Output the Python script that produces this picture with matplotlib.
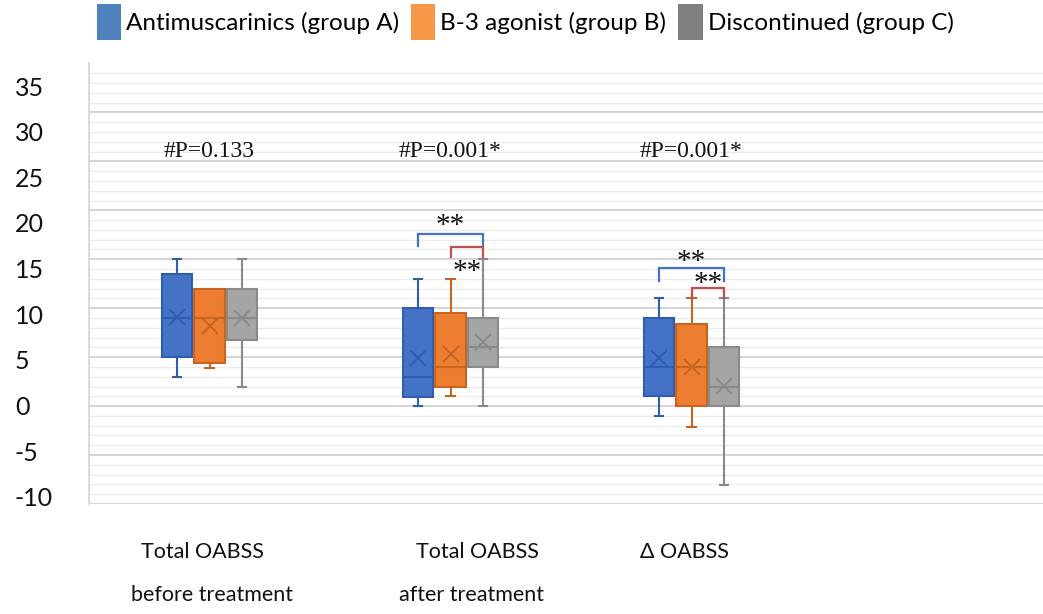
import matplotlib
matplotlib.use("Agg")
import matplotlib.pyplot as plt
from matplotlib.patches import Patch
import matplotlib.transforms as mtransforms

# ---------------- data ----------------
categories = ["Total OABSS before treatment", "Total OABSS after treatment", "Δ OABSS"]
cat_line1 = ["Total OABSS", "Total OABSS", "Δ OABSS"]
cat_line2 = ["before treatment", "after treatment", ""]
groups = ["Antimuscarinics (group A)", "B-3 agonist (group B)", "Discontinued (group C)"]

# per group, per category: [whislo, q1, median, q3, whishi]
five_num_A = [[3, 5, 9, 13.5, 15], [0, 0.9, 3, 10, 13], [-1, 1, 4, 9, 11]]
five_num_B = [[3.9, 4.4, 9, 12, 12], [1, 2, 4, 9.5, 13], [-2.1, 0, 4, 8.4, 11]]
five_num_C = [[2, 6.8, 9, 12, 15], [0, 4, 6, 9, 15], [-8.1, 0, 2, 6, 11]]
means_A = [9.1, 4.9, 4.9]
means_B = [8.2, 5.3, 4.0]
means_C = [9.05, 6.6, 2.1]

p_texts = ["#P=0.133", "#P=0.001*", "#P=0.001*"]
p_y = 26
yticks = [-10, -5, 0, 5, 10, 15, 20, 25, 30, 35]

# significance brackets: (category, group_from, group_to, top_y, leg_bottom_y, label_y, color)
brackets = [
    (1, 0, 2, 17.6, 16.4, 18.4, "#4472C4"),
    (1, 1, 2, 16.3, 15.2, 13.7, "#C0504D"),
    (2, 0, 2, 14.15, 12.8, 14.7, "#4472C4"),
    (2, 1, 2, 12.1, 11.0, 12.5, "#C0504D"),
]

# ---------------- style ----------------
face_cols = ["#4472C4", "#ED7D31", "#A5A5A5"]
edge_cols = ["#2F5DAF", "#C5651F", "#8A8A8A"]
legend_cols = ["#4F81BD", "#F79646", "#7F7F7F"]

W, H = 1043, 614
fig = plt.figure(figsize=(W / 100, H / 100), dpi=100)

def px_axes(left, top, right, bottom):
    return [left / W, 1 - bottom / H, (right - left) / W, (bottom - top) / H]

ax = fig.add_axes(px_axes(89, 63.5, 1053, 504))
ax.set_xlim(-0.5, 3.5)
ax.set_ylim(-10, 35)

# grid
ax.set_yticks(yticks)
ax.set_yticks([v for v in range(-10, 36) if v % 5 != 0], minor=True)
ax.grid(axis="y", which="major", color="#d4d4d4", linewidth=1.4)
ax.grid(axis="y", which="minor", color="#ececec", linewidth=1.0)
ax.set_axisbelow(True)
ax.tick_params(axis="both", which="both", length=0, labelleft=False, labelbottom=False)
ax.set_xticks([])
for s in ["top", "right", "bottom"]:
    ax.spines[s].set_visible(False)
ax.spines["left"].set_color("#d4d4d4")
ax.spines["left"].set_linewidth(1.2)

offsets = [-0.136, 0.0, 0.136]
box_w = 0.125
all_five = [five_num_A, five_num_B, five_num_C]
all_means = [means_A, means_B, means_C]

for g in range(3):
    stats = []
    for c in range(3):
        lo, q1, med, q3, hi = all_five[g][c]
        stats.append(dict(whislo=lo, q1=q1, med=med, q3=q3, whishi=hi,
                          mean=all_means[g][c], fliers=[]))
    positions = [c + offsets[g] for c in range(3)]
    ec = edge_cols[g]
    ax.bxp(stats, positions=positions, widths=box_w, patch_artist=True,
           showmeans=True, showfliers=False, manage_ticks=False,
           boxprops=dict(facecolor=face_cols[g], edgecolor=ec, linewidth=1.5),
           medianprops=dict(color=ec, linewidth=1.5),
           whiskerprops=dict(color=ec, linewidth=1.5),
           capprops=dict(color=ec, linewidth=1.5),
           capwidths=0.035,
           meanprops=dict(marker="x", markeredgecolor=ec, markersize=11,
                          markeredgewidth=1.4))

# P-values
for c, t in enumerate(p_texts):
    ax.text(c, p_y, t, ha="center", va="center", fontsize=17,
            family="Liberation Serif", color="#111111")

# brackets
for c, g0, g1, top, legb, ly, col in brackets:
    x0 = c + offsets[g0]
    x1 = c + offsets[g1]
    ax.plot([x0, x0, x1, x1], [legb, top, top, legb], color=col, linewidth=1.6,
            solid_joinstyle="miter")
    ax.text((x0 + x1) / 2, ly, "**", ha="center", va="center",
            fontsize=21, family="Liberation Serif", color="#111111")

# category labels (two lines, placed below axes)
trans = mtransforms.blended_transform_factory(ax.transData, fig.transFigure)
line1_x = [-0.029, 1.112, 1.969]
line2_x = [0.009, 1.087, 0]
for c in range(3):
    fig.text(line1_x[c], 1 - 552 / H, cat_line1[c], transform=trans,
             ha="center", va="center", fontsize=15.5, family="Lato", color="#111111")
    if cat_line2[c]:
        fig.text(line2_x[c], 1 - 595 / H, cat_line2[c], transform=trans,
                 ha="center", va="center", fontsize=15.5, family="Lato", color="#111111")

# y tick labels axis (offset scale as in the reference)
ax2 = fig.add_axes(px_axes(14, 86, 15, 496.7))
ax2.set_ylim(-10, 35)
ax2.set_yticks(yticks)
ax2.set_yticklabels([str(v) for v in yticks])
ax2.yaxis.tick_right()
ax2.tick_params(axis="y", length=0, pad=0, labelsize=18, labelcolor="#111111")
for lab in ax2.get_yticklabels():
    lab.set_family("Lato")
ax2.set_xticks([])
for s in ax2.spines.values():
    s.set_visible(False)
ax2.patch.set_visible(False)

# legend
handles = [Patch(facecolor=legend_cols[i], edgecolor="none", label=groups[i]) for i in range(3)]
fig.legend(handles=handles, loc="center", bbox_to_anchor=(525 / W, 1 - 22 / H), ncol=3,
           frameon=False, prop=dict(family="Lato", size=17.5),
           handlelength=1.0, handleheight=1.9, handletextpad=0.2, columnspacing=0.5,
           borderpad=0, borderaxespad=0)

fig.savefig("out.png", dpi=100)
